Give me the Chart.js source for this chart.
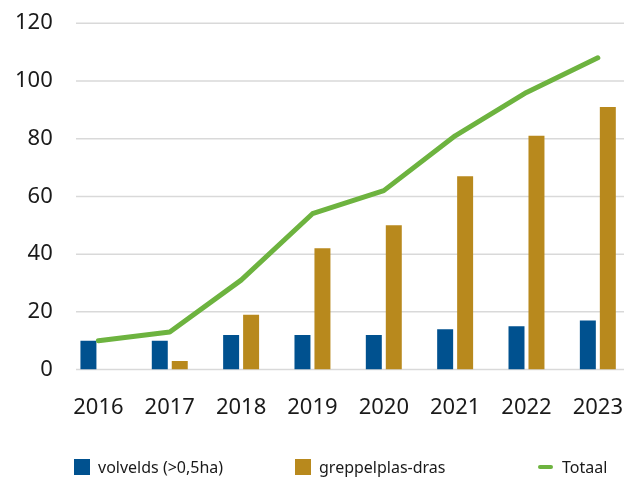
<!DOCTYPE html>
<html>
<head>
<meta charset="utf-8">
<script src="https://cdn.jsdelivr.net/npm/chart.js@4.4.1/dist/chart.umd.min.js"></script>
<style>
    html, body { margin: 0; padding: 0; background: #fff; }
    #wrap { position: relative; width: 624px; height: 482px; overflow: hidden; }
    #chart { position: absolute; left: 0; top: 0; }
    .legend { position: absolute; top: 456px; font-family: 'Noto Sans', sans-serif; font-size: 16px; color: #1a1a1a; line-height: 22px; white-space: nowrap; }
    .legend .box { display: inline-block; width: 16px; height: 16px; vertical-align: -2px; margin-right: 8px; }
    .legend .dash { display: inline-block; width: 15px; height: 4px; border-radius: 2px; vertical-align: 4px; margin-right: 9px; }
</style>
</head>
<body>
<div id="wrap">
    <canvas id="chart" width="648" height="469"></canvas>
    <div class="legend" style="left:74px"><span class="box" style="background:#00518f"></span>volvelds (&gt;0,5ha)</div>
    <div class="legend" style="left:295px"><span class="box" style="background:#b8891d"></span>greppelplas-dras</div>
    <div class="legend" style="left:538px"><span class="dash" style="background:#6db33f"></span>Totaal</div>
</div>
<script>
// Data
const years = ['2016', '2017', '2018', '2019', '2020', '2021', '2022', '2023'];
const volvelds = [10, 10, 12, 12, 12, 14, 15, 17];
const greppelplas = [0, 3, 19, 42, 50, 67, 81, 91];
const totaal = [10, 13, 31, 54, 62, 81, 96, 108];
const yTicks = [0, 20, 40, 60, 80, 100, 120];

const tickFont = { family: "'Noto Sans', sans-serif", size: 22 };

// Horizontal gridlines, drawn from the y scale but starting a bit right of the plot edge
const gridPlugin = {
    id: 'gridFromScale',
    beforeDatasetsDraw(chart) {
        const ctx = chart.ctx;
        const y = chart.scales.y;
        const right = chart.chartArea.right;
        ctx.save();
        ctx.strokeStyle = '#d9d9d9';
        ctx.lineWidth = 1.5;
        yTicks.forEach(v => {
            const py = y.getPixelForValue(v);
            ctx.beginPath();
            ctx.moveTo(76, py);
            ctx.lineTo(right, py);
            ctx.stroke();
        });
        ctx.restore();
    }
};

new Chart(document.getElementById('chart'), {
    data: {
        labels: years,
        datasets: [{
            type: 'line',
            label: 'Totaal',
            data: totaal,
            borderColor: '#6db33f',
            backgroundColor: '#6db33f',
            borderWidth: 5,
            borderCapStyle: 'round',
            borderJoinStyle: 'round',
            pointRadius: 0,
            tension: 0,
            order: 0
        }, {
            type: 'bar',
            label: 'volvelds (>0,5ha)',
            data: volvelds,
            backgroundColor: '#00518f',
            categoryPercentage: 0.56,
            barPercentage: 0.8,
            order: 1
        }, {
            type: 'bar',
            label: 'greppelplas-dras',
            data: greppelplas,
            backgroundColor: '#b8891d',
            categoryPercentage: 0.56,
            barPercentage: 0.8,
            order: 1
        }]
    },
    options: {
        responsive: false,
        animation: false,
        layout: { padding: { top: 19, right: 0, left: 5, bottom: 23 } },
        plugins: {
            legend: { display: false },
            tooltip: { enabled: false }
        },
        scales: {
            x: {
                offset: true,
                grid: { display: false, drawTicks: false },
                border: { display: false },
                ticks: { color: '#1a1a1a', font: tickFont, padding: 25, maxRotation: 0 }
            },
            y: {
                min: 0,
                max: 120,
                afterBuildTicks(axis) { axis.ticks = yTicks.map(v => ({ value: v })); },
                grid: { display: false, drawTicks: false },
                border: { display: false },
                ticks: { color: '#1a1a1a', font: tickFont, padding: 10 }
            }
        }
    },
    plugins: [gridPlugin]
});
</script>
</body>
</html>
